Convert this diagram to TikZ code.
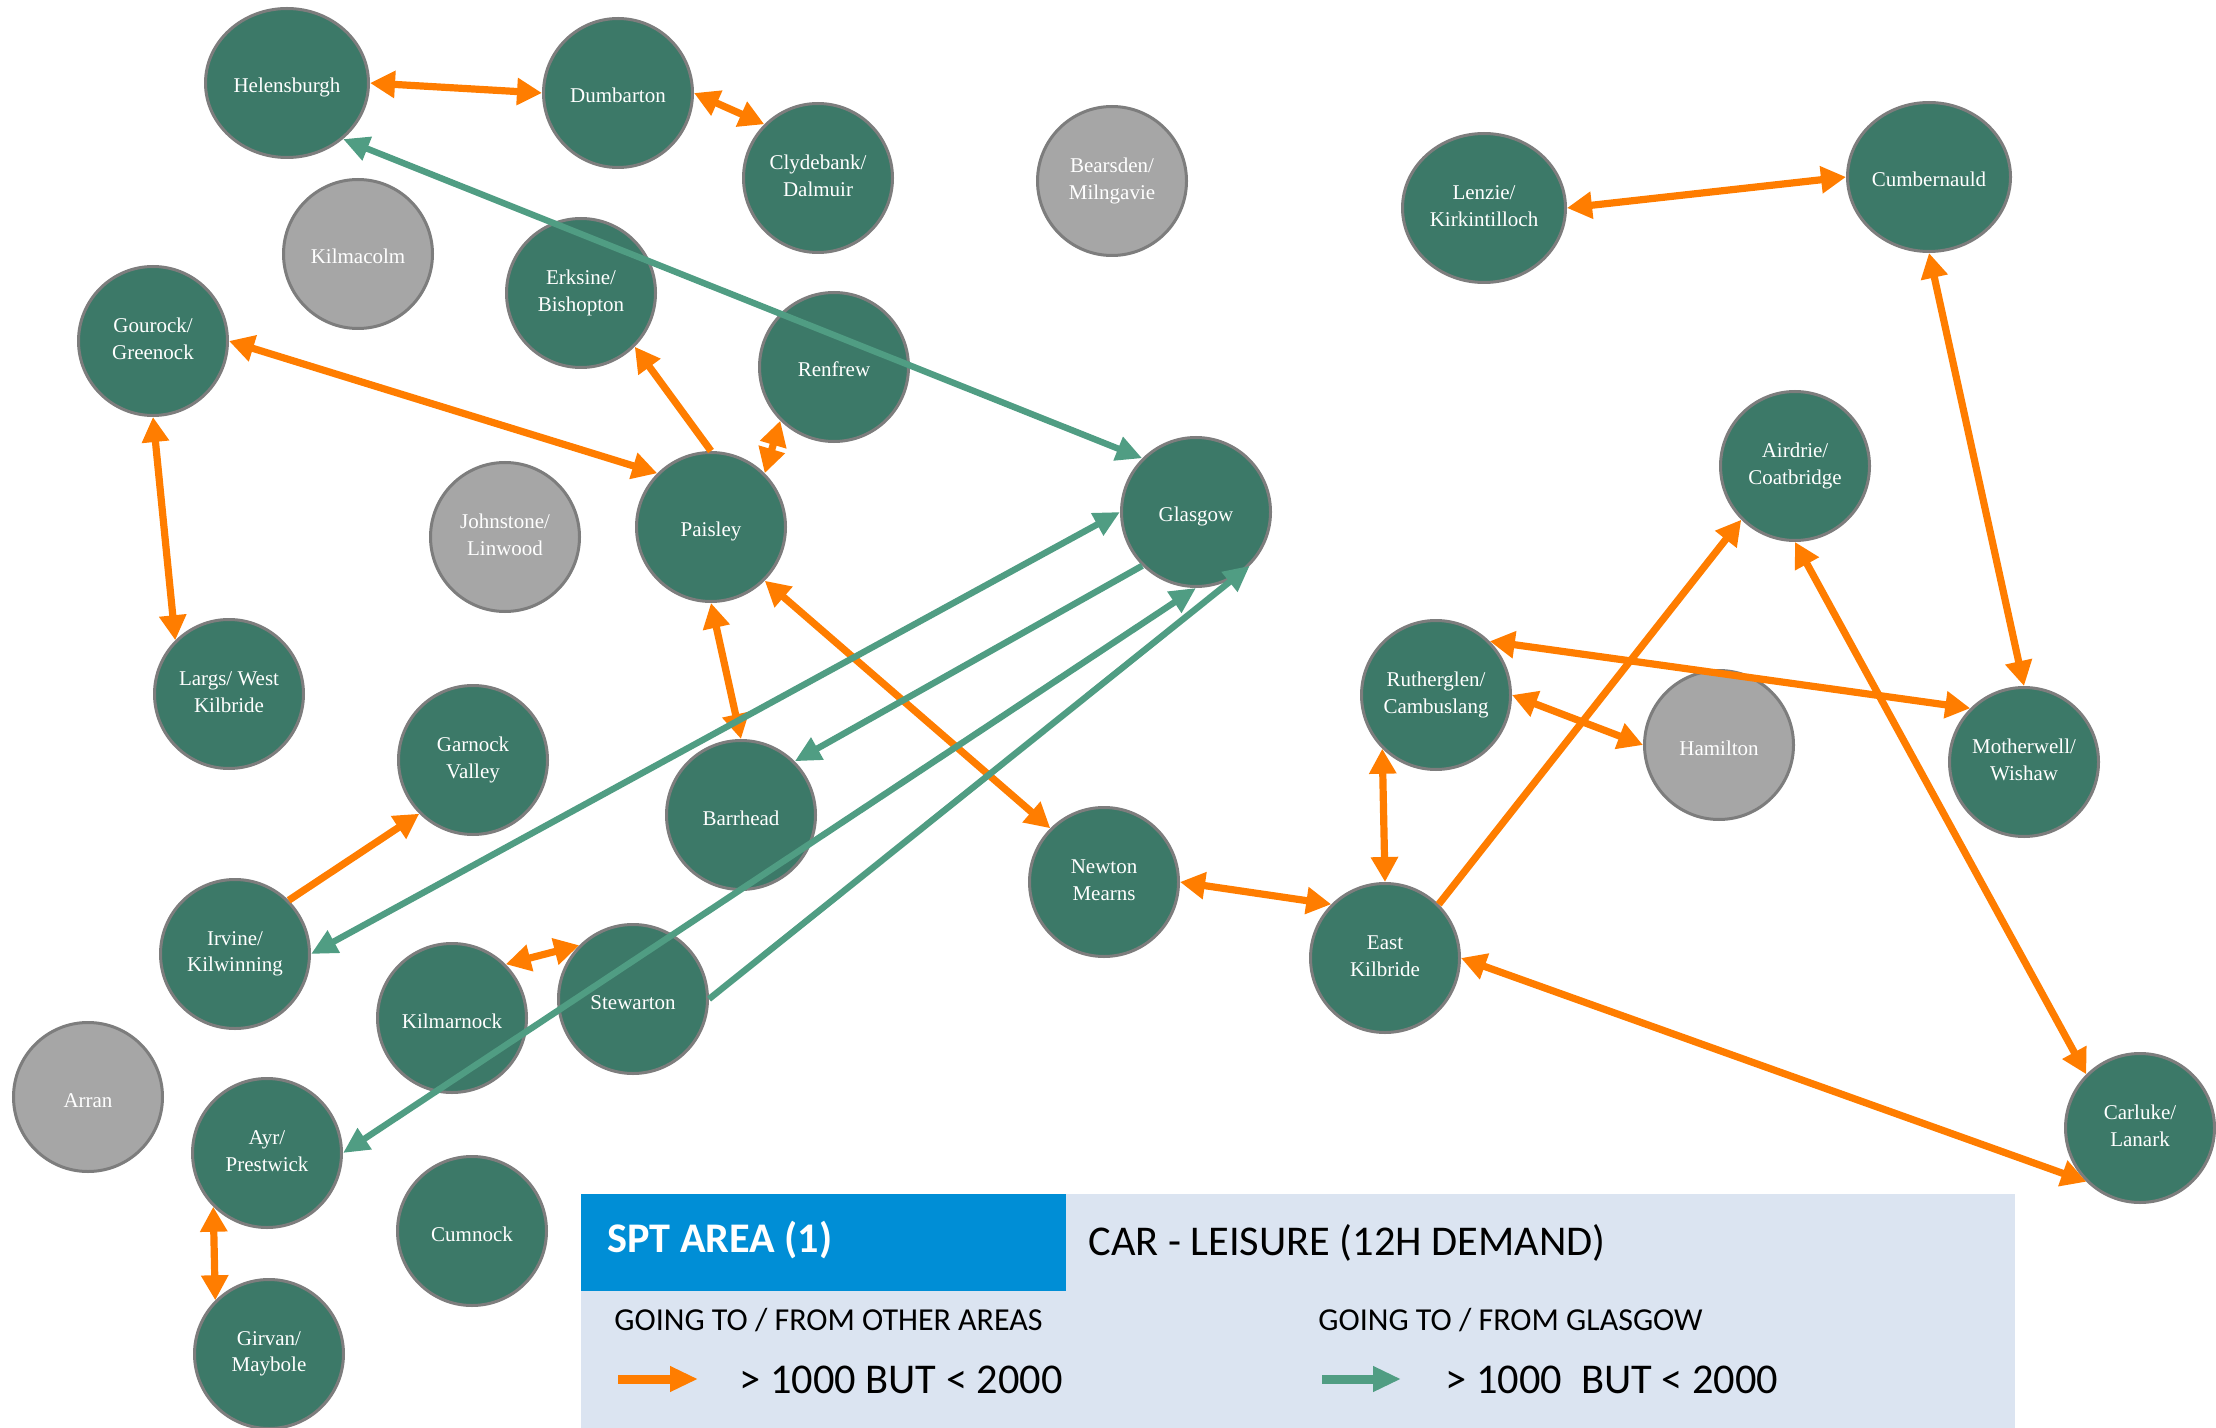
\documentclass[tikz,border=0pt]{standalone}
\usepackage{fontspec}
\setmainfont{Liberation Serif}
\newfontfamily\keyfont{Carlito}
\usepackage{tikz}
\usetikzlibrary{arrows.meta,shapes.geometric}
\definecolor{towngreen}{RGB}{60,121,104}
\definecolor{idlegrey}{RGB}{166,166,166}
\definecolor{townedge}{RGB}{125,125,125}
\definecolor{floworange}{RGB}{255,125,0}
\definecolor{flowteal}{RGB}{80,157,131}
\definecolor{keyback}{RGB}{219,228,241}
\definecolor{sptblue}{RGB}{0,142,214}

\begin{document}
\begin{tikzpicture}[x=0.5pt,y=-0.5pt,
  town/.style={ellipse,draw=townedge,line width=1.5pt,fill=towngreen,text=white,
    minimum width=74.5pt,minimum height=74.5pt,inner sep=0pt,align=center,
    font=\fontsize{10.5}{13.3}\selectfont,
    execute at begin node={\rule{0pt}{12pt}},
    execute at end node={\rule[-2pt]{0pt}{0pt}}},
  townwide/.style={town,minimum width=81.5pt},
  idle/.style={town,fill=idlegrey},
  flow/.style={draw=floworange,line width=3.6pt,>={Triangle[length=12.5pt,width=13pt]}},
  cityflow/.style={draw=flowteal,line width=3.2pt,>={Triangle[length=13pt,width=12pt]}},
  keyflow/.style={line width=4.5pt,-{Triangle[length=14pt,width=12pt]}},
  keytext/.style={anchor=base west,inner sep=0pt,font=\keyfont\fontsize{16}{19}\selectfont},
  keybig/.style={keytext,font=\keyfont\fontsize{21.2}{25}\selectfont}]
\useasboundingbox (0,0) rectangle (2216,1428);

\fill[keyback] (581,1194) rectangle (2015,1428);
\fill[sptblue] (581,1194) rectangle (1066,1291);
\node[keybig,text=white,font=\keyfont\bfseries\fontsize{21.1}{25}\selectfont] (spt) at (607,1252) {SPT AREA (1)};
\node[keybig] (mode) at (1088,1255) {CAR - LEISURE (12H DEMAND)};
\node[keytext] (otherhead) at (614,1330) {GOING TO / FROM OTHER AREAS};
\node[keytext] (glasgowhead) at (1318,1330) {GOING TO / FROM GLASGOW};
\node[keybig] (otherband) at (739,1393) {> 1000 BUT < 2000};
\node[keybig] (glasgowband) at (1445,1393) {> 1000\ \ BUT < 2000};
\coordinate (keyA) at (618,1379);
\coordinate (keyB) at (698,1379);
\coordinate (keyC) at (1322,1379);
\coordinate (keyD) at (1401,1379);
\draw[keyflow,floworange] (keyA) -- (keyB);
\draw[keyflow,flowteal] (keyC) -- (keyD);

\node[townwide] (helensburgh) at (287,83) {Helensburgh};
\node[town] (dumbarton) at (618,93) {Dumbarton};
\node[town] (clydebank) at (818,178) {Clydebank/\\Dalmuir};
\node[idle] (bearsden) at (1112,181) {Bearsden/\\Milngavie};
\node[idle] (kilmacolm) at (358,254) {Kilmacolm};
\node[town] (erksine) at (581,293) {Erksine/\\Bishopton};
\node[town] (renfrew) at (834,367) {Renfrew};
\node[town] (gourock) at (153,341) {Gourock/\\Greenock};
\node[townwide] (lenzie) at (1484,208) {Lenzie/\\Kirkintilloch};
\node[townwide] (cumbernauld) at (1929,177) {Cumbernauld};
\node[idle] (johnstone) at (505,537) {Johnstone/\\Linwood};
\node[town] (paisley) at (711,527) {Paisley};
\node[town] (glasgow) at (1196,512) {Glasgow};
\node[town] (airdrie) at (1795,466) {Airdrie/\\Coatbridge};
\node[town] (largs) at (229,694) {Largs/ West\\Kilbride};
\node[town] (garnock) at (473,760) {Garnock\\Valley};
\node[town] (barrhead) at (741,815) {Barrhead};
\node[town] (rutherglen) at (1436,695) {Rutherglen/\\Cambuslang};
\node[idle] (hamilton) at (1719,745) {Hamilton};
\node[town] (motherwell) at (2024,762) {Motherwell/\\Wishaw};
\node[town] (newton) at (1104,882) {Newton\\Mearns};
\node[town] (eastkilbride) at (1385,958) {East\\Kilbride};
\node[town] (irvine) at (235,954) {Irvine/\\Kilwinning};
\node[town] (kilmarnock) at (452,1018) {Kilmarnock};
\node[town] (stewarton) at (633,999) {Stewarton};
\node[idle] (arran) at (88,1097) {Arran};
\node[town] (ayr) at (267,1153) {Ayr/\\Prestwick};
\node[town] (cumnock) at (472,1231) {Cumnock};
\node[town] (girvan) at (269,1354) {Girvan/\\Maybole};
\node[town] (carluke) at (2140,1128) {Carluke/\\Lanark};

\draw[flow,<->] (helensburgh.0) -- (dumbarton.180);
\draw[flow,<->] (dumbarton.0) -- (clydebank.135);
\draw[flow,<->] (gourock.0) -- (paisley.135);
\draw[flow,->] (paisley.90) -- (erksine.-45);
\draw[flow,<->] (paisley.45) -- (renfrew.-135);
\draw[flow,<->] (gourock.-90) -- (largs.135);
\draw[flow,<->] (paisley.-90) -- (barrhead.90);
\draw[flow,<->] (paisley.-45) -- (newton.135);
\draw[flow,->] (irvine.45) -- (garnock.-135);
\draw[flow,<->] (kilmarnock.45) -- (stewarton.135);
\draw[flow,<->] (ayr.-135) -- (girvan.135);
\draw[flow,<->] (newton.0) -- (eastkilbride.135);
\draw[flow,<->] (rutherglen.-135) -- (eastkilbride.90);
\draw[flow,<->] (rutherglen.0) -- (hamilton.180);
\draw[flow,<->] (rutherglen.45) -- (motherwell.135);
\draw[flow,->] (eastkilbride.45) -- (airdrie.-135);
\draw[flow,<->] (eastkilbride.0) -- (carluke.-135);
\draw[flow,<->] (airdrie.-90) -- (carluke.135);
\draw[flow,<->] (cumbernauld.-90) -- (motherwell.90);
\draw[flow,<->] (lenzie.0) -- (cumbernauld.180);

\draw[cityflow,<->] (helensburgh.-45) -- (glasgow.135);
\draw[cityflow,<->] (irvine.0) -- (glasgow.180);
\draw[cityflow,->] (glasgow.-135) -- (barrhead.45);
\draw[cityflow,<->] (ayr.0) -- (glasgow.-90);
\draw[cityflow,->] (stewarton.0) -- (glasgow.-45);
\end{tikzpicture}
\end{document}
